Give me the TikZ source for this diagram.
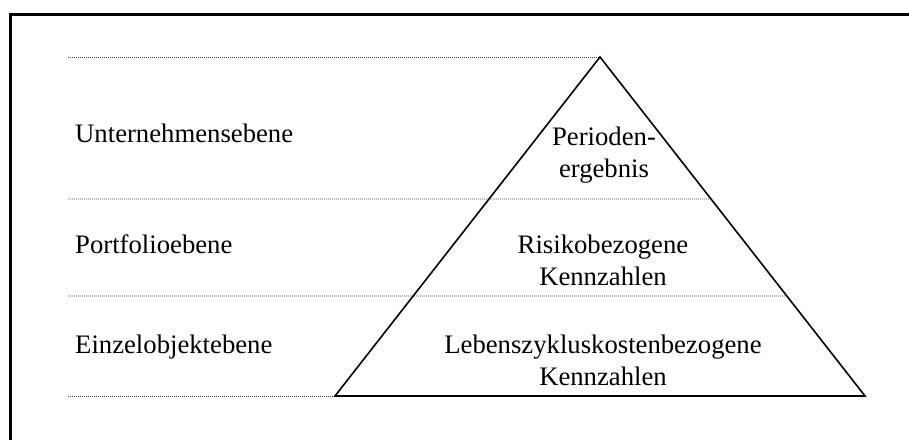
\documentclass[tikz,border=0pt]{standalone}
\usepackage{fontspec}
\setmainfont{Liberation Serif}
\usetikzlibrary{calc}
\begin{document}
\begin{tikzpicture}[x=1pt,y=-1pt,
  levelline/.style={black!75,line width=0.8pt,dash pattern=on 1pt off 1pt},
  pyramid/.style={black,line width=1.6pt,line join=miter},
  frameline/.style={black,line width=3pt},
  lbl/.style={font=\fontsize{26.7}{32}\selectfont,inner sep=0pt,anchor=base west},
  ctr/.style={font=\fontsize{26.7}{32}\selectfont,inner sep=0pt,anchor=base,align=center}]
  \useasboundingbox (0,0) rectangle (909,439);
  \clip (0,0) rectangle (909,439);
  % outer frame (continues past the right and bottom edges)
  \draw[frameline] (10.5,14.5) rectangle (930,460);
  % pyramid corners
  \coordinate (apex) at (600,57);
  \coordinate (bl) at (335,396);
  \coordinate (br) at (865,396);
  % level separators
  \coordinate (l0) at (68,57);
  \coordinate (l1) at (68,199);
  \coordinate (l2) at (68,296);
  \coordinate (l3) at (68,396);
  \coordinate (r1) at ($(apex)!0.4189!(br)$);
  \coordinate (r2) at ($(apex)!0.7050!(br)$);
  \draw[levelline] (l0) -- (apex);
  \draw[levelline] (l1) -- (r1);
  \draw[levelline] (l2) -- (r2);
  \draw[levelline] (l3) -- (bl);
  % pyramid
  \draw[pyramid] (apex) -- (br) -- (bl) -- cycle;
  % level names
  \node[lbl] (u) at (75,142) {Unternehmensebene};
  \node[lbl] (p) at (75,253) {Portfolioebene};
  \node[lbl] (e) at (75,353) {Einzelobjektebene};
  % key figures per level (base = baseline of the last line)
  \node[ctr] (k1) at (604,177) {Perioden-\\ergebnis};
  \node[ctr] (k2) at (603,285) {Risikobezogene\\Kennzahlen};
  \node[ctr] (k3) at (603,385) {Lebenszykluskostenbezogene\\Kennzahlen};
\end{tikzpicture}
\end{document}
